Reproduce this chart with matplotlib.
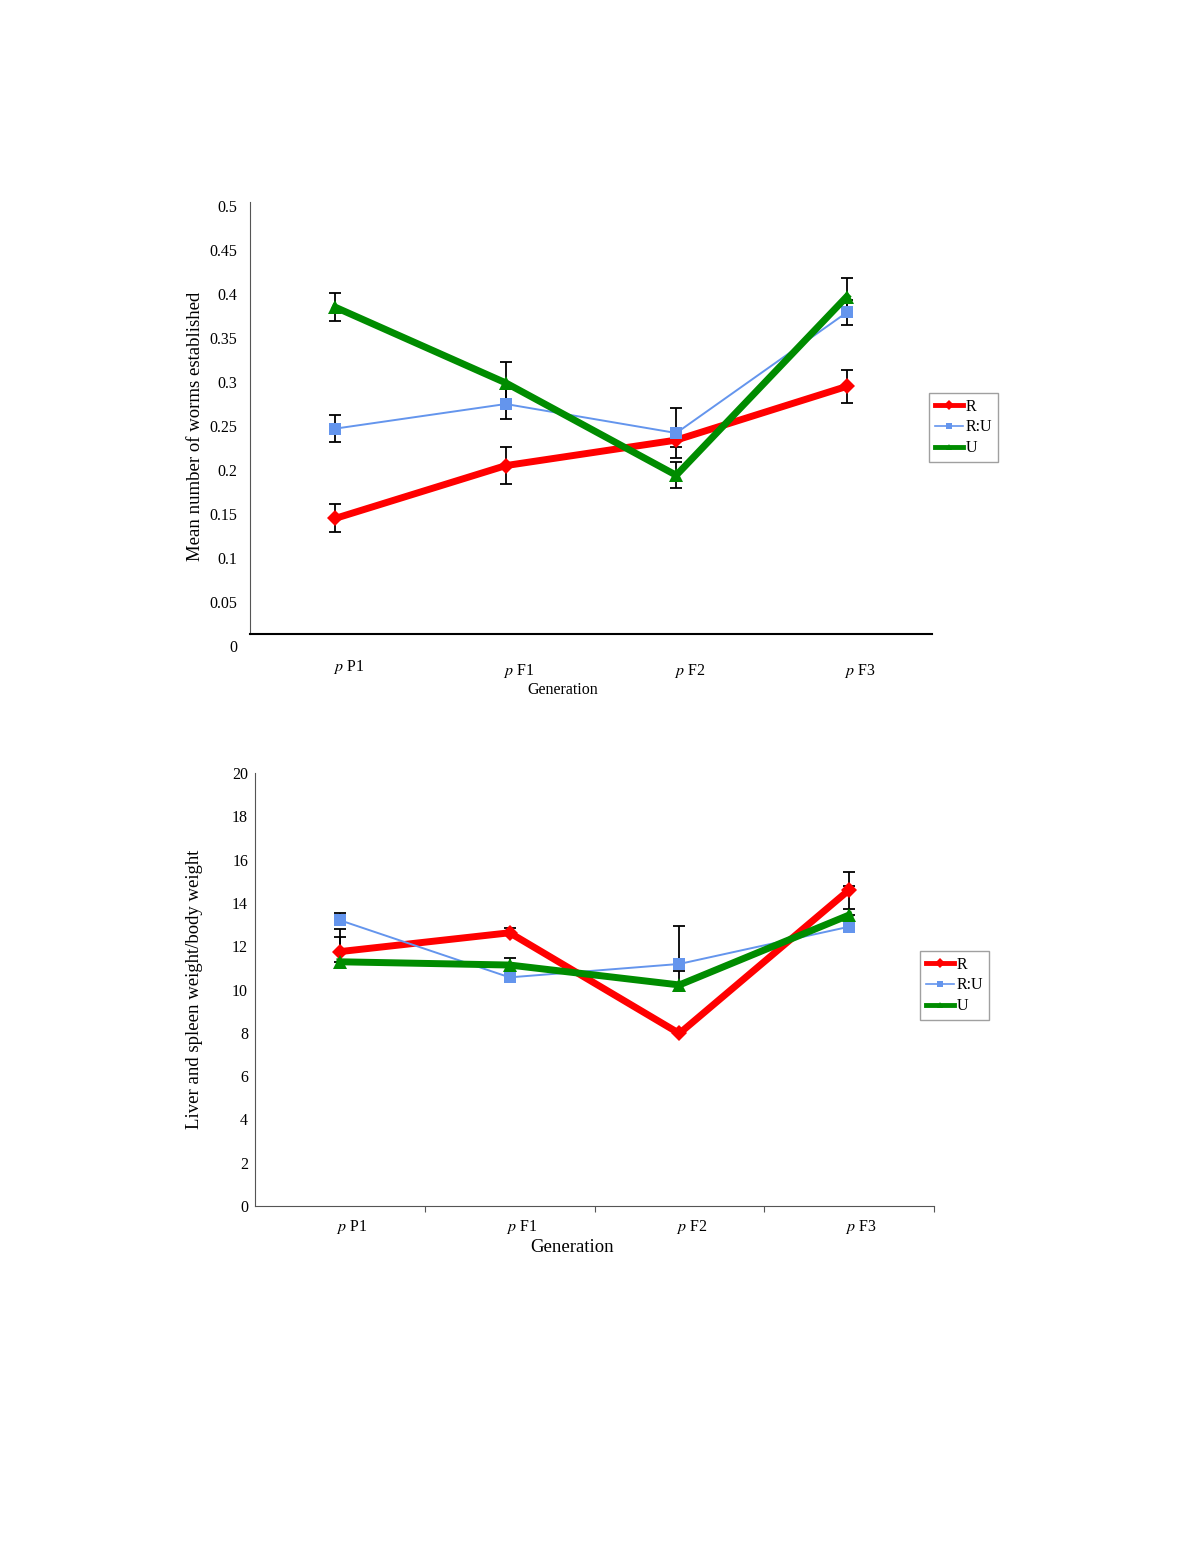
import matplotlib
matplotlib.use("Agg")
import matplotlib.pyplot as plt
import matplotlib.transforms as mtransforms
from matplotlib.lines import Line2D
import numpy as np

plt.rcParams['font.family'] = ['Liberation Serif', 'DejaVu Serif']
plt.rcParams['mathtext.fontset'] = 'stix'

generations = ['P1', 'F1', 'F2', 'F3']
tick_labels = ['$\\it{p}$ P1', '$\\it{p}$ F1', '$\\it{p}$ F2', '$\\it{p}$ F3']
series_names = ['R', 'R:U', 'U']

# Top panel: mean number of worms established
worms_R = [0.145, 0.205, 0.234, 0.295]
worms_RU = [0.247, 0.275, 0.242, 0.379]
worms_U = [0.385, 0.299, 0.194, 0.397]
worms_R_err = [0.016, 0.021, 0.008, 0.019]
worms_RU_err = [0.015, 0.017, 0.028, 0.014]
worms_U_err = [0.016, 0.024, 0.015, 0.021]

# Bottom panel: liver and spleen weight / body weight (plus error only)
liver_R = [11.75, 12.62, 7.97, 14.6]
liver_RU = [13.2, 10.56, 11.18, 12.9]
liver_U = [11.28, 11.13, 10.21, 13.44]
liver_R_err = [1.03, 0.24, 0.1, 0.81]
liver_RU_err = [0.35, 0.5, 1.75, 1.88]
liver_U_err = [1.16, 0.34, 0.64, 0.26]

colors = {'R': '#FF0000', 'R:U': '#6495ED', 'U': '#008C00'}
markers = {'R': 'D', 'R:U': 's', 'U': '^'}
lws = {'R': 5, 'R:U': 1.4, 'U': 5}
msz = {'R': 8, 'R:U': 9, 'U': 10}

fig = plt.figure(figsize=(12, 15.53), dpi=100)
x = np.arange(len(generations)) + 0.5


def draw(ax, data, errs, plus_only):
    for name, vals, err in zip(series_names, data, errs):
        vals = np.array(vals)
        err = np.array(err)
        yerr = [np.zeros_like(err), err] if plus_only else err
        ax.errorbar(x, vals, yerr=yerr, fmt='none', ecolor='black',
                    elinewidth=1.3, capsize=4.5, capthick=1.3, zorder=2)
    for name, vals in zip(series_names, data):
        ax.plot(x, vals, color=colors[name], lw=lws[name],
                marker=markers[name], ms=msz[name],
                markeredgewidth=0, zorder=3, label=name)


def legend_handles():
    return [Line2D([], [], color=colors[n], lw=(3.5 if n != 'R:U' else 1.2),
                   marker=markers[n], ms=5, markeredgewidth=0) for n in series_names]


def add_legend(anchor):
    leg = fig.legend(handles=legend_handles(), labels=series_names, loc='upper left',
                     bbox_to_anchor=anchor, fontsize=11.5,
                     frameon=True, fancybox=False, edgecolor='#888888',
                     handlelength=1.8, handletextpad=0.15, labelspacing=0.3,
                     borderpad=0.35, borderaxespad=0)
    leg.get_frame().set_linewidth(1.0)
    return leg


# ---------- Top panel ----------
ax1 = fig.add_axes([250/1200, 1-646/1553, 682/1200, 440/1553])
draw(ax1, [worms_R, worms_RU, worms_U],
     [worms_R_err, worms_RU_err, worms_U_err], plus_only=False)
ax1.set_xlim(0, 4)
ax1.set_ylim(0, 0.5)
ax1.set_yticks(np.arange(0, 0.501, 0.05))
ax1.set_yticklabels(['0', '0.05', '0.1', '0.15', '0.2', '0.25', '0.3',
                     '0.35', '0.4', '0.45', '0.5'], fontsize=11.5)
ax1.spines['top'].set_visible(False)
ax1.spines['right'].set_visible(False)
ax1.spines['bottom'].set_position(('data', 0.0136))
ax1.spines['left'].set_bounds(0.0136, 0.505)
ax1.spines['bottom'].set_linewidth(1.5)
ax1.spines['left'].set_color('#555555')
ax1.tick_params(axis='y', length=0, pad=9)
ax1.tick_params(axis='x', length=0)
ax1.set_xticks(x)
ax1.set_xticklabels(tick_labels, fontsize=11.5)
off = mtransforms.ScaledTranslation(0.13, -0.19, fig.dpi_scale_trans)
for i, lab in enumerate(ax1.get_xticklabels()):
    dy = -0.04 if i > 0 else 0.0
    lab.set_transform(lab.get_transform() + off +
                      mtransforms.ScaledTranslation(0, dy, fig.dpi_scale_trans))
ax1.set_ylabel('Mean number of worms established', fontsize=13.5, labelpad=4)
fig.text(563/1200, 1-690/1553, 'Generation', fontsize=11.5, ha='center', va='center')
add_legend((929/1200, 1-393/1553))

# ---------- Bottom panel ----------
ax2 = fig.add_axes([255/1200, 1-1206/1553, 679/1200, 433/1553])
draw(ax2, [liver_R, liver_RU, liver_U],
     [liver_R_err, liver_RU_err, liver_U_err], plus_only=True)
ax2.set_xlim(0, 4)
ax2.set_ylim(0, 20)
ax2.set_yticks(np.arange(0, 21, 2))
ax2.set_yticklabels([str(v) for v in range(0, 21, 2)], fontsize=11.5)
ax2.spines['top'].set_visible(False)
ax2.spines['right'].set_visible(False)
ax2.spines['left'].set_color('#555555')
ax2.spines['bottom'].set_color('#555555')
ax2.tick_params(axis='y', length=0, pad=5)
ax2.set_xticks([1, 2, 3, 4], minor=False)
ax2.set_xticks(x, minor=True)
ax2.set_xticklabels([])
ax2.set_xticklabels(tick_labels, minor=True, fontsize=11.5)
ax2.tick_params(axis='x', which='major', length=4, direction='out', color='#555555')
ax2.tick_params(axis='x', which='minor', length=0, pad=9)
off2 = mtransforms.ScaledTranslation(0.12, 0, fig.dpi_scale_trans)
for lab in ax2.get_xticklabels(minor=True):
    lab.set_transform(lab.get_transform() + off2)
ax2.set_ylabel('Liver and spleen weight/body weight', fontsize=13.5, labelpad=21)
fig.text(572/1200, 1-1248/1553, 'Generation', fontsize=13.5, ha='center', va='center')
add_legend((920/1200, 1-951/1553))

fig.savefig('out.png', dpi=100, facecolor='white')
